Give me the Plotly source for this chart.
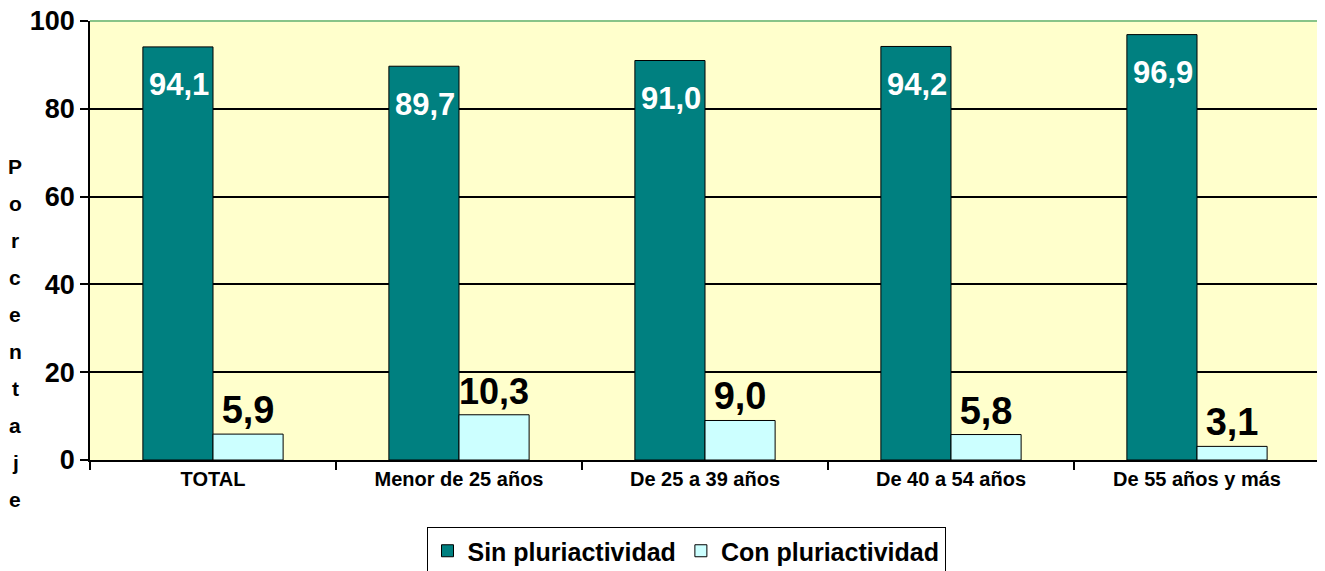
import plotly.graph_objects as go

categories = ["TOTAL", "Menor de 25 años", "De 25 a 39 años", "De 40 a 54 años", "De 55 años y más"]
sin_pluri = [94.1, 89.7, 91.0, 94.2, 96.9]
con_pluri = [5.9, 10.3, 9.0, 5.8, 3.1]
sin_labels = ["94,1", "89,7", "91,0", "94,2", "96,9"]
con_labels = ["5,9", "10,3", "9,0", "5,8", "3,1"]
y_ticks = [0, 20, 40, 60, 80, 100]
y_title = "Porcentaje"

FONT = "Liberation Sans, Arial, sans-serif"

# the page shows the figure with an 8px body offset
OFF = 8
W, H = 1325, 571
L, T = 90 - OFF, 21 - OFF
R = W + OFF - 1320
B = H + OFF - 460

fig = go.Figure()
fig.add_trace(go.Bar(
    x=categories, y=sin_pluri, name="<b>Sin pluriactividad</b>",
    marker=dict(color="#008080", line=dict(color="#000000", width=1)),
))
fig.add_trace(go.Bar(
    x=categories, y=con_pluri, name="<b>Con pluriactividad</b>",
    marker=dict(color="#CCFFFF", line=dict(color="#000000", width=1)),
    text=["<b>%s</b>" % t for t in con_labels], textposition="outside", cliponaxis=False,
    textfont=dict(family=FONT, size=38, color="#000000"),
))

annotations = []
for c, v, t in zip(categories, sin_pluri, sin_labels):
    annotations.append(dict(x=c, y=v, text="<b>%s</b>" % t, showarrow=False,
                            xref="x", yref="y", xshift=-34, yshift=-38,
                            font=dict(family=FONT, size=31, color="#FFFFFF")))

ph = H - T - B
pw = W - L - R
top_px, step_px = 166, 37.1
for i, ch in enumerate(y_title):
    ypx = top_px + i * step_px - OFF
    annotations.append(dict(x=(15 - OFF - L) / pw, y=(H - B - ypx) / ph, xref="paper", yref="paper",
                            xanchor="center", yanchor="middle",
                            text="<b>%s</b>" % ch, showarrow=False,
                            font=dict(family=FONT, size=21, color="#000000")))

fig.update_layout(
    width=W, height=H,
    margin=dict(l=L, r=R, t=T, b=B, autoexpand=False),
    paper_bgcolor="#FFFFFF",
    plot_bgcolor="#FFFFCC",
    barmode="group",
    bargap=0.43,
    bargroupgap=0,
    showlegend=True,
    legend=dict(orientation="h", x=(686 - OFF - L) / pw, xanchor="center",
                y=(H - B - (527 - OFF)) / ph, yanchor="top",
                bgcolor="#FFFFFF", bordercolor="#000000", borderwidth=1,
                font=dict(family=FONT, size=25, color="#000000"),
                tracegroupgap=0),
    annotations=annotations,
    font=dict(family=FONT),
)
fig.update_yaxes(range=[0, 100], tickvals=y_ticks, ticktext=["<b>%d</b>" % v for v in y_ticks],
                 showgrid=True, gridcolor="#000000", gridwidth=1.5,
                 showline=True, linecolor="#000000", linewidth=1.5,
                 ticks="outside", ticklen=8, tickcolor="#000000", tickwidth=1.5,
                 tickfont=dict(family=FONT, size=27, color="#000000"), zeroline=False,
                 automargin=False, ticklabeloverflow="allow")
fig.update_xaxes(tickvals=categories, ticktext=["<b>%s</b>" % c for c in categories],
                 tickson="boundaries", ticks="outside", ticklen=8, tickcolor="#000000", tickwidth=1.5,
                 showline=True, linecolor="#000000", linewidth=1.5,
                 tickfont=dict(family=FONT, size=20, color="#000000"), automargin=False)
fig.add_shape(type="line", xref="paper", yref="paper", x0=0, x1=1, y0=1, y1=1,
              line=dict(color="#88C488", width=2))
fig.add_shape(type="line", xref="paper", yref="paper", x0=1, x1=1, y0=0, y1=1,
              line=dict(color="#B8E8B8", width=1.5))
fig.write_html("out.html")
